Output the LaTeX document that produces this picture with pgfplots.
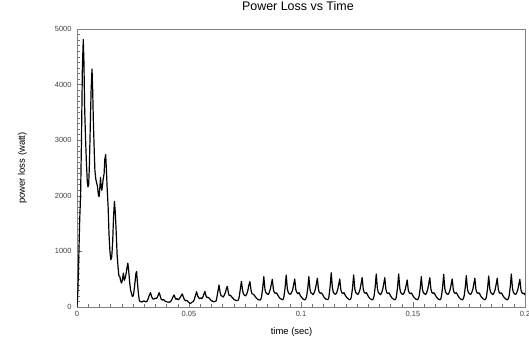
\documentclass[border=0pt]{standalone}
\usepackage{fontspec}
\setmainfont{Liberation Sans}
\usepackage{pgfplots}
\pgfplotsset{compat=1.18}
\begin{document}
\begin{tikzpicture}
\useasboundingbox (0,0) rectangle (529bp,347bp);
\begin{axis}[
  at={(77bp,40bp)}, anchor=south west,
  scale only axis, width=448bp, height=278bp,
  xmin=0, xmax=0.2, ymin=0, ymax=5000,
  xtick={0,0.05,0.1,0.15,0.2},
  xticklabels={0,0.05,0.1,0.15,0.2},
  ytick={0,1000,2000,3000,4000,5000},
  yticklabels={0,1000,2000,3000,4000,5000},
  minor x tick num=9, minor y tick num=9,
  xtick pos=left, ytick pos=left,
  tick align=inside,
  major tick length=5bp, minor tick length=3bp,
  axis line style={black!50},
  every tick/.style={black!55},
  tick label style={font=\fontsize{7.5}{8}\selectfont, text=black!75},
  yticklabel style={xshift=-2bp},
  xticklabel style={yshift=-1bp},
  title={Power Loss vs Time},
  title style={at={(axis description cs:0.493,1.061)}, anchor=center, font=\fontsize{12.5}{14}\selectfont},
  xlabel={time (sec)},
  xlabel style={at={(axis description cs:0.479,-0.090)}, anchor=center, font=\fontsize{9.5}{11}\selectfont},
  ylabel={power loss (watt)},
  ylabel style={at={(axis description cs:-0.1217,0.5)}, anchor=center, font=\fontsize{9.5}{11}\selectfont},
]
\addplot[black, line width=1.2bp, line join=round] coordinates {
(0,0) (0.0004,300) (0.0008,900) (0.0012,1560) (0.0016,2000) (0.0020,3000) (0.0024,4300) (0.0028,4810) (0.0031,4400) (0.0034,3600) (0.0038,3050) (0.0042,2600) (0.0046,2250) (0.0049,2160) (0.0052,2200) (0.0055,2500) (0.0059,3200) (0.0063,3900) (0.0067,4280) (0.0070,3900) (0.0073,3350) (0.0077,2800) (0.0080,2450) (0.0084,2300) (0.0088,2230) (0.0092,2150) (0.0096,2000) (0.0099,1990) (0.0102,2150) (0.0105,2330) (0.0108,2150) (0.0111,2100) (0.0114,2200) (0.0117,2300) (0.0121,2400) (0.0124,2650) (0.0128,2740) (0.0131,2500) (0.0135,2100) (0.0139,1800) (0.0143,1300) (0.0147,1000) (0.0151,850) (0.0155,900) (0.0159,1150) (0.0163,1600) (0.0167,1900) (0.0171,1700) (0.0175,1350) (0.0179,950) (0.0183,730) (0.0187,560) (0.0191,550) (0.0195,470) (0.0199,430) (0.0203,500) (0.0207,610) (0.0211,480) (0.0215,520) (0.0219,600) (0.0223,700) (0.0227,790) (0.0231,640) (0.0235,450) (0.0239,310) (0.0243,250) (0.0247,190) (0.0251,200) (0.0255,300) (0.0259,450) (0.0263,600) (0.0266,640) (0.0270,430) (0.0274,250) (0.0278,120)
(0.0282,100) (0.0290,90) (0.0298,110) (0.0305,95) (0.0312,100) (0.0317,140) (0.0322,200) (0.0328,258) (0.0333,190) (0.0337,150) (0.0342,140) (0.0348,160) (0.0353,150) (0.0358,170) (0.0362,210) (0.0367,258) (0.0372,190) (0.0376,140) (0.0381,125) (0.0386,135) (0.0392,110) (0.0398,95) (0.0405,90) (0.0412,85) (0.0418,100)
(0.0424,140) (0.0429,185) (0.0433,216) (0.0438,170) (0.0441,140) (0.0446,150) (0.0451,130) (0.0456,145) (0.0461,175) (0.0466,210) (0.0470,234) (0.0475,175) (0.0479,140) (0.0484,110) (0.0490,120) (0.0496,95) (0.0502,70) (0.0508,66) (0.0514,90) (0.0520,100)
(0.0524,140) (0.0529,210) (0.0534,275) (0.0539,195) (0.0543,170) (0.0548,150) (0.0553,165) (0.0558,150) (0.0563,190) (0.0567,240) (0.0571,280) (0.0576,200) (0.0580,170) (0.0585,175) (0.0590,160) (0.0596,130) (0.0602,110) (0.0609,95) (0.0616,100) (0.0621,110)
(0.0624,160) (0.0629,280) (0.0634,396) (0.0639,260) (0.0643,205) (0.0648,195) (0.0653,180) (0.0658,215) (0.0663,270) (0.0667,335) (0.0671,370) (0.0676,250) (0.0680,205) (0.0685,210) (0.0690,185) (0.0696,160) (0.0702,130) (0.0709,120) (0.0716,115) (0.0721,130)
(0.0724,180) (0.0729,320) (0.0734,462) (0.0739,300) (0.0743,235) (0.0748,210) (0.0753,200) (0.0758,235) (0.0763,300) (0.0767,390) (0.0772,456) (0.0777,300) (0.0781,240) (0.0786,230) (0.0791,215) (0.0797,180) (0.0803,150) (0.0810,130) (0.0817,125) (0.0821,145)
(0.0824,185) (0.0829,340) (0.0834,546) (0.0839,320) (0.0843,260) (0.0848,240) (0.0853,225) (0.0858,255) (0.0863,320) (0.0868,420) (0.0872,498) (0.0877,310) (0.0881,260) (0.0886,245) (0.0891,255) (0.0897,210) (0.0903,170) (0.0910,145) (0.0917,130) (0.0921,145)
(0.0924,190) (0.0929,350) (0.0934,576) (0.0939,330) (0.0943,265) (0.0948,235) (0.0953,230) (0.0958,260) (0.0963,315) (0.0968,420) (0.0972,504) (0.0977,310) (0.0981,265) (0.0986,240) (0.0991,258) (0.0997,205) (0.1003,172) (0.1010,140) (0.1017,128) (0.1021,146)
(0.1025,188) (0.1030,330) (0.1035,546) (0.1040,320) (0.1044,258) (0.1049,242) (0.1054,222) (0.1059,258) (0.1064,322) (0.1069,425) (0.1073,516) (0.1078,315) (0.1082,262) (0.1087,248) (0.1092,252) (0.1098,212) (0.1104,168) (0.1111,142) (0.1118,132) (0.1122,142)
(0.1125,192) (0.1130,370) (0.1135,618) (0.1140,350) (0.1144,268) (0.1149,238) (0.1154,228) (0.1159,254) (0.1164,318) (0.1169,415) (0.1173,504) (0.1178,308) (0.1182,258) (0.1187,244) (0.1192,256) (0.1198,208) (0.1204,172) (0.1211,146) (0.1218,130) (0.1222,145)
(0.1225,186) (0.1230,345) (0.1235,576) (0.1240,330) (0.1244,262) (0.1249,240) (0.1254,226) (0.1259,260) (0.1264,325) (0.1269,435) (0.1273,528) (0.1278,320) (0.1282,264) (0.1287,246) (0.1292,258) (0.1298,210) (0.1304,170) (0.1311,144) (0.1318,128) (0.1322,142)
(0.1326,190) (0.1331,355) (0.1336,594) (0.1341,335) (0.1345,265) (0.1350,238) (0.1355,224) (0.1360,256) (0.1365,322) (0.1370,432) (0.1374,528) (0.1379,318) (0.1383,260) (0.1388,244) (0.1393,254) (0.1399,206) (0.1405,168) (0.1412,142) (0.1419,130) (0.1423,144)
(0.1426,192) (0.1431,355) (0.1436,594) (0.1441,338) (0.1445,262) (0.1450,236) (0.1455,226) (0.1460,252) (0.1465,310) (0.1470,405) (0.1474,486) (0.1479,302) (0.1483,258) (0.1488,240) (0.1493,252) (0.1499,208) (0.1505,170) (0.1512,144) (0.1519,130) (0.1523,144)
(0.1527,188) (0.1532,330) (0.1537,546) (0.1542,320) (0.1546,260) (0.1551,240) (0.1556,224) (0.1561,258) (0.1566,324) (0.1571,435) (0.1575,528) (0.1580,320) (0.1584,262) (0.1589,246) (0.1594,256) (0.1600,210) (0.1606,170) (0.1613,144) (0.1620,130) (0.1624,144)
(0.1627,192) (0.1632,350) (0.1637,588) (0.1642,332) (0.1646,264) (0.1651,238) (0.1656,226) (0.1661,256) (0.1666,318) (0.1671,418) (0.1675,504) (0.1680,310) (0.1684,258) (0.1689,244) (0.1694,256) (0.1700,208) (0.1706,170) (0.1713,142) (0.1720,130) (0.1724,144)
(0.1728,190) (0.1733,342) (0.1738,564) (0.1743,325) (0.1747,262) (0.1752,240) (0.1757,226) (0.1762,258) (0.1767,320) (0.1772,425) (0.1776,516) (0.1781,314) (0.1785,260) (0.1790,246) (0.1795,256) (0.1801,208) (0.1807,170) (0.1814,144) (0.1821,130) (0.1825,144)
(0.1828,188) (0.1833,338) (0.1838,558) (0.1843,322) (0.1847,260) (0.1852,238) (0.1857,224) (0.1862,256) (0.1867,320) (0.1872,425) (0.1876,516) (0.1881,314) (0.1885,260) (0.1890,244) (0.1895,254) (0.1901,208) (0.1907,170) (0.1914,144) (0.1921,130) (0.1925,144)
(0.1929,192) (0.1934,355) (0.1939,594) (0.1944,336) (0.1948,264) (0.1953,238) (0.1958,226) (0.1963,256) (0.1968,316) (0.1973,415) (0.1977,498) (0.1982,306) (0.1986,258) (0.1991,240) (0.1996,250) (0.2000,215)
};
\end{axis}
\end{tikzpicture}
\end{document}
